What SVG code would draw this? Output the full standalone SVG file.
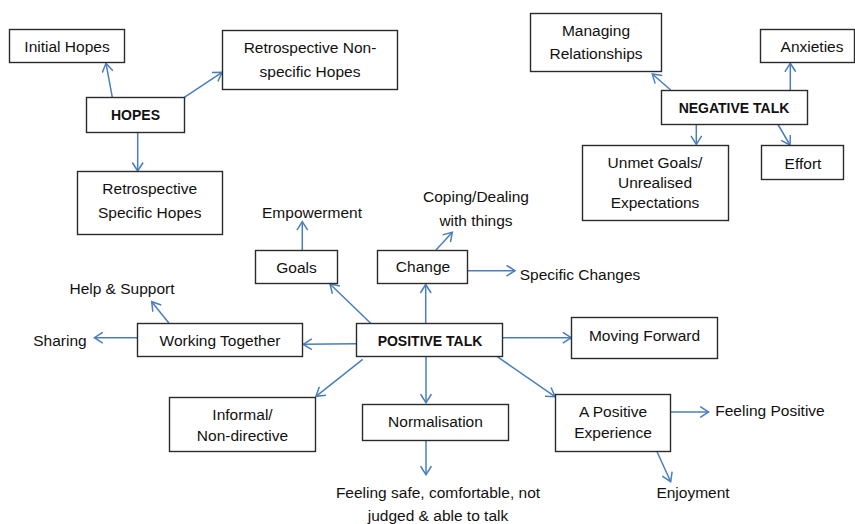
<svg xmlns="http://www.w3.org/2000/svg" width="855" height="524" viewBox="0 0 855 524">
<defs>
<marker id="ah" viewBox="0 0 12 12" refX="10.5" refY="6" markerWidth="12" markerHeight="12" markerUnits="userSpaceOnUse" orient="auto">
<path d="M2,0.6 L10.5,6 L2,11.4" fill="none" stroke="#4a7ebb" stroke-width="1.5"/>
</marker>
<style>
rect{fill:#fff;stroke:#2b2b2b;stroke-width:1.4}
text{font-family:"Liberation Sans",Arial,sans-serif;font-size:15.5px;fill:#111;text-anchor:middle}
text.b{font-weight:bold;font-size:14px}
#connectors line{stroke:#4a7ebb;stroke-width:1.5;marker-end:url(#ah)}
</style>
</defs>
<rect x="0" y="0" width="855" height="524" style="fill:#fff;stroke:none"/>
<g id="connectors">
<line x1="112.3" y1="97.3" x2="106" y2="63.3"/>
<line x1="184.3" y1="97.3" x2="222" y2="72.3"/>
<line x1="137.7" y1="132.3" x2="137.7" y2="171"/>
<line x1="670.7" y1="90" x2="652.3" y2="74"/>
<line x1="790.3" y1="90" x2="790.3" y2="63.3"/>
<line x1="696.3" y1="124" x2="696.3" y2="144.3"/>
<line x1="777.7" y1="124" x2="790" y2="145"/>
<line x1="302.3" y1="250" x2="302.3" y2="221.7"/>
<line x1="370.7" y1="323.3" x2="330" y2="284"/>
<line x1="425.7" y1="323.3" x2="425.7" y2="284.5"/>
<line x1="436" y1="250" x2="452.3" y2="232.3"/>
<line x1="468" y1="270.7" x2="515" y2="270.7"/>
<line x1="356.7" y1="343.7" x2="303.3" y2="344.3"/>
<line x1="169" y1="323.3" x2="151.7" y2="301.7"/>
<line x1="137.3" y1="337.7" x2="94.3" y2="337.7"/>
<line x1="362.7" y1="359.3" x2="316" y2="396.3"/>
<line x1="426" y1="356.7" x2="426" y2="402.7"/>
<line x1="426" y1="440.3" x2="426" y2="474.7"/>
<line x1="503" y1="337.7" x2="571.3" y2="337.7"/>
<line x1="497.3" y1="356.7" x2="555" y2="396.7"/>
<line x1="671" y1="412" x2="708.7" y2="412"/>
<line x1="656.7" y1="451" x2="670.7" y2="481.7"/>
</g>
<g id="initial-hopes"><rect x="9.5" y="29.5" width="115" height="33"/><text x="67" y="52">Initial Hopes</text></g>
<g id="retro-nonspecific"><rect x="222.5" y="30.5" width="175" height="59"/><text x="310" y="53">Retrospective Non-</text><text x="310" y="77">specific Hopes</text></g>
<g id="hopes"><rect x="86.5" y="97.5" width="98" height="35"/><text class="b" x="135.5" y="120">HOPES</text></g>
<g id="retro-specific"><rect x="77.5" y="171.5" width="145" height="63"/><text x="149.7" y="194">Retrospective</text><text x="149.7" y="218">Specific Hopes</text></g>
<g id="empowerment"><text x="312" y="218">Empowerment</text></g>
<g id="managing-relationships"><rect x="530.5" y="13.5" width="131" height="58"/><text x="596" y="36">Managing</text><text x="596" y="59">Relationships</text></g>
<g id="anxieties"><rect x="760.5" y="29.5" width="94" height="33"/><text x="812" y="52">Anxieties</text></g>
<g id="negative-talk"><rect x="661.5" y="90.5" width="146" height="34"/><text class="b" x="734" y="113">NEGATIVE TALK</text></g>
<g id="unmet-goals"><rect x="582.5" y="145.5" width="146" height="75"/><text x="655" y="168">Unmet Goals/</text><text x="655" y="188">Unrealised</text><text x="655" y="208">Expectations</text></g>
<g id="effort"><rect x="761.5" y="145.5" width="82" height="34"/><text x="803" y="169">Effort</text></g>
<g id="coping"><text x="476" y="202">Coping/Dealing</text><text x="476" y="226">with things</text></g>
<g id="goals"><rect x="255.5" y="250.5" width="82" height="33"/><text x="296.5" y="273">Goals</text></g>
<g id="change"><rect x="377.5" y="250.5" width="90" height="33"/><text x="423" y="272">Change</text></g>
<g id="specific-changes"><text x="580" y="280">Specific Changes</text></g>
<g id="help-support"><text x="122" y="294">Help &amp; Support</text></g>
<g id="working-together"><rect x="137.5" y="323.5" width="165" height="33"/><text x="220" y="346">Working Together</text></g>
<g id="sharing"><text x="60" y="346">Sharing</text></g>
<g id="positive-talk"><rect x="356.5" y="323.5" width="146" height="33"/><text class="b" x="430" y="346">POSITIVE TALK</text></g>
<g id="moving-forward"><rect x="571.5" y="317.5" width="146" height="41"/><text x="644.5" y="341">Moving Forward</text></g>
<g id="informal"><rect x="169.5" y="397.5" width="146" height="54"/><text x="242.5" y="420">Informal/</text><text x="242.5" y="441">Non-directive</text></g>
<g id="normalisation"><rect x="362.5" y="404.5" width="146" height="36"/><text x="435.5" y="427">Normalisation</text></g>
<g id="positive-experience"><rect x="555.5" y="394.5" width="115" height="57"/><text x="613" y="417">A Positive</text><text x="613" y="438">Experience</text></g>
<g id="feeling-positive"><text x="770" y="416">Feeling Positive</text></g>
<g id="feeling-safe"><text x="438" y="498">Feeling safe, comfortable, not</text><text x="438" y="521">judged &amp; able to talk</text></g>
<g id="enjoyment"><text x="693" y="498">Enjoyment</text></g>
</svg>
